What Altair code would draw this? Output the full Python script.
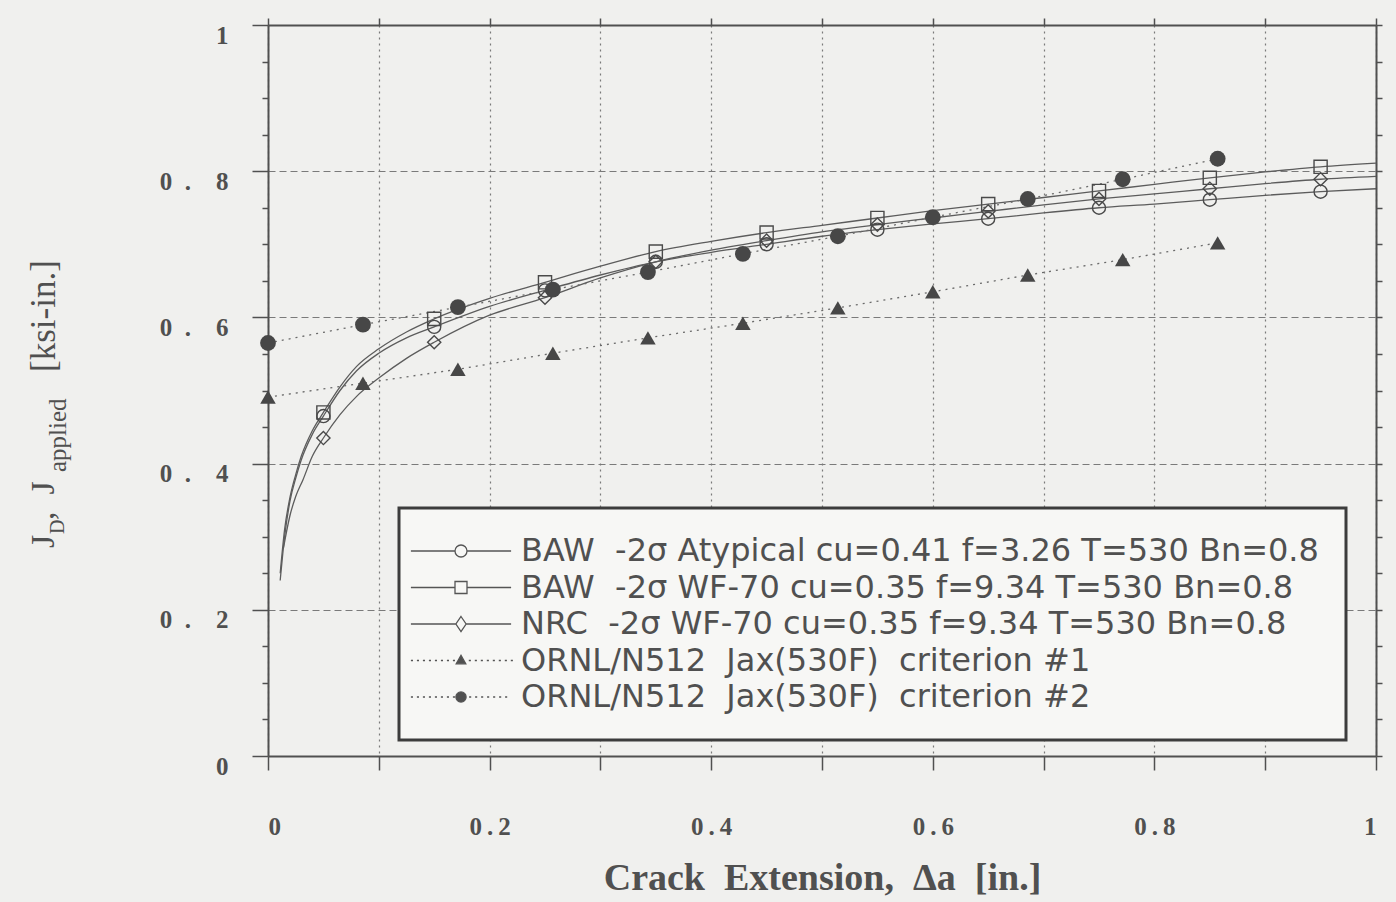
import altair as alt
import pandas as pd

# ---------------- data ----------------
series_names = [
    "BAW\u00a0\u00a0-2σ Atypical cu=0.41 f=3.26 T=530 Bn=0.8",
    "BAW\u00a0\u00a0-2σ WF-70 cu=0.35 f=9.34 T=530 Bn=0.8",
    "NRC\u00a0\u00a0-2σ WF-70 cu=0.35 f=9.34 T=530 Bn=0.8",
    "ORNL/N512\u00a0\u00a0Jax(530F)\u00a0\u00a0criterion #1",
    "ORNL/N512\u00a0\u00a0Jax(530F)\u00a0\u00a0criterion #2",
]

# open-marker positions of the three fitted J-R curves
marker_x = [0.05, 0.15, 0.25, 0.35, 0.45, 0.55, 0.65, 0.75, 0.85, 0.95]
baw_atyp_marker_y = [0.465, 0.587, 0.637, 0.676, 0.700, 0.720, 0.735, 0.750, 0.761, 0.772]
baw_wf70_marker_y = [0.470, 0.598, 0.648, 0.690, 0.716, 0.736, 0.755, 0.773, 0.791, 0.806]
nrc_wf70_marker_y = [0.435, 0.566, 0.627, 0.676, 0.705, 0.727, 0.745, 0.762, 0.776, 0.789]

# traced curve points
curve_x = [0.011, 0.015, 0.02, 0.025, 0.03, 0.04, 0.05, 0.065, 0.08, 0.1, 0.125, 0.15,
           0.2, 0.25, 0.3, 0.35, 0.4, 0.45, 0.5, 0.55, 0.6, 0.65, 0.7, 0.75, 0.8,
           0.85, 0.9, 0.95, 1.0]
baw_atyp_curve_y = [0.24, 0.30, 0.35, 0.38, 0.405, 0.44, 0.465, 0.50, 0.527, 0.551, 0.572,
                    0.587, 0.615, 0.637, 0.658, 0.676, 0.689, 0.700, 0.711, 0.720, 0.728,
                    0.735, 0.743, 0.750, 0.755, 0.761, 0.767, 0.772, 0.776]
baw_wf70_curve_y = [0.25, 0.31, 0.355, 0.385, 0.41, 0.445, 0.47, 0.505, 0.533, 0.557, 0.58,
                    0.598, 0.626, 0.648, 0.670, 0.690, 0.704, 0.716, 0.726, 0.736, 0.746,
                    0.755, 0.764, 0.773, 0.782, 0.791, 0.799, 0.806, 0.811]
nrc_curve_x = [0.014, 0.02, 0.025, 0.0316, 0.04, 0.05, 0.065, 0.08, 0.1, 0.125, 0.15, 0.2,
               0.25, 0.3, 0.35, 0.4, 0.45, 0.5, 0.55, 0.6, 0.65, 0.7, 0.75, 0.8, 0.85,
               0.9, 0.95, 1.0]
nrc_wf70_curve_y = [0.285, 0.33, 0.355, 0.378, 0.41, 0.435, 0.467, 0.492, 0.517, 0.544,
                    0.566, 0.603, 0.627, 0.654, 0.676, 0.692, 0.705, 0.717, 0.727, 0.736,
                    0.745, 0.754, 0.762, 0.769, 0.776, 0.783, 0.789, 0.793]

# ORNL applied-J points
ornl_x = [0.0, 0.0857, 0.1714, 0.2571, 0.3429, 0.4286, 0.5143, 0.6, 0.6857, 0.7714, 0.8571]
crit1_y = [0.491, 0.510, 0.529, 0.551, 0.572, 0.592, 0.613, 0.635, 0.658, 0.679, 0.702]
crit2_y = [0.565, 0.590, 0.614, 0.638, 0.662, 0.687, 0.711, 0.737, 0.762, 0.789, 0.817]

x_ticks = [0.0, 0.1, 0.2, 0.3, 0.4, 0.5, 0.6, 0.7, 0.8, 0.9, 1.0]
y_ticks = [0.0, 0.05, 0.1, 0.15, 0.2, 0.25, 0.3, 0.35, 0.4, 0.45, 0.5, 0.55, 0.6,
           0.65, 0.7, 0.75, 0.8, 0.85, 0.9, 0.95, 1.0]

# ---------------- tables ----------------
curves = pd.concat([
    pd.DataFrame({"x": curve_x, "y": baw_atyp_curve_y, "series": series_names[0]}),
    pd.DataFrame({"x": curve_x, "y": baw_wf70_curve_y, "series": series_names[1]}),
    pd.DataFrame({"x": nrc_curve_x, "y": nrc_wf70_curve_y, "series": series_names[2]}),
])
open_pts = pd.concat([
    pd.DataFrame({"x": marker_x, "y": baw_atyp_marker_y, "series": series_names[0]}),
    pd.DataFrame({"x": marker_x, "y": baw_wf70_marker_y, "series": series_names[1]}),
    pd.DataFrame({"x": marker_x, "y": nrc_wf70_marker_y, "series": series_names[2]}),
])
ornl = pd.concat([
    pd.DataFrame({"x": ornl_x, "y": crit1_y, "series": series_names[3]}),
    pd.DataFrame({"x": ornl_x, "y": crit2_y, "series": series_names[4]}),
])
legend_rows = pd.DataFrame({"entry": series_names})

# ---------------- styling ----------------
BG = "#f0f0ee"
INK = "#505050"
SERIF = "Liberation Serif"
major = "abs(datum.value*5 - round(datum.value*5)) < 0.001"

# legend sample symbols (line + marker) as unit-space paths
L = 16.7
def solid(g):
    return f"M{-L},0H{-g}M{g},0H{L}"
def dotted(g):
    s, p = "", -L
    while p < -g - 0.5:
        s += f"M{p:.2f},0H{p+0.7:.2f}"
        p += 2.0
    p = g + 1.0
    while p < L:
        s += f"M{p:.2f},0H{p+0.7:.2f}"
        p += 2.0
    return s
legend_paths = [
    solid(2) + "M2,0A2,2 0 1,1 -2,0A2,2 0 1,1 2,0Z",
    solid(2) + "M-2,-2H2V2H-2Z",
    solid(1.7) + "M0,-2.5L1.7,0L0,2.5L-1.7,0Z",
    dotted(1.6) + "M0,-1.7L1.6,1.1L-1.6,1.1Z",
    dotted(1.7) + "M1.7,0A1.7,1.7 0 1,1 -1.7,0A1.7,1.7 0 1,1 1.7,0Z",
]
legend_fills = ["#f7f7f5", "#f7f7f5", "#f7f7f5", INK, INK]
legend_strokes = ["#555555"] * 5

xs = alt.Scale(domain=[0, 1], nice=False, zero=False)
ys = alt.Scale(domain=[0, 1], nice=False, zero=False)

x_axis = alt.Axis(
    orient="bottom", values=x_ticks, format="~g",
    labelExpr=f"({major}) ? replace(datum.label, '.', '\u2009.\u2009') : ''",
    title="Crack\u00a0\u00a0Extension,\u00a0\u00a0Δa\u00a0\u00a0[in.]",
    titleFont=SERIF, titleFontSize=38, titleFontWeight="bold", titleColor=INK,
    titleY=122, titleBaseline="middle",
    labelFont=SERIF, labelFontSize=25, labelFontWeight="bold", labelColor=INK,
    labelPadding=44, tickSize=14, tickColor=INK, tickWidth=1.5,
    domainColor=INK, domainWidth=2,
    grid=True, gridColor="#7a7a7a", gridDash=[2, 4], gridWidth=1.2,
)
y_axis = alt.Axis(
    orient="left", values=y_ticks, format="~g",
    labelExpr=f"({major}) ? replace(datum.label, '.', '\u2002.\u2003') : ''",
    title=None,
    labelFont=SERIF, labelFontSize=25, labelFontWeight="bold", labelColor=INK,
    labelPadding=24, labelOffset=10,
    tickSize={"condition": {"test": major, "value": 16}, "value": 6},
    tickColor=INK, tickWidth=1.5,
    domainColor=INK, domainWidth=2,
    grid=True, gridColor="#7a7a7a", gridDash=[7, 4], gridWidth=1.2,
    gridOpacity={"condition": {"test": major, "value": 1}, "value": 0},
)
top_axis = alt.Axis(orient="top", values=x_ticks, labels=False, title=None, grid=False,
                    tickSize=7, tickColor=INK, tickWidth=1.5, domainColor=INK, domainWidth=2)
right_axis = alt.Axis(orient="right", values=y_ticks, labels=False, title=None, grid=False,
                      tickSize=6, tickColor=INK, tickWidth=1.5, domainColor=INK, domainWidth=2)

curve_lines = alt.Chart(curves).mark_line(
    interpolate="monotone", color="#5c5c5c", strokeWidth=1.3
).encode(
    x=alt.X("x:Q", scale=xs, axis=x_axis),
    y=alt.Y("y:Q", scale=ys, axis=y_axis),
    detail="series:N",
)

ornl_lines = alt.Chart(ornl).mark_line(
    color="#6a6a6a", strokeWidth=1.3, strokeDash=[2, 5]
).encode(
    x=alt.X("x:Q", scale=xs, axis=top_axis),
    y=alt.Y("y:Q", scale=ys, axis=right_axis),
    detail="series:N",
)

open_markers = alt.Chart(open_pts).mark_point(
    filled=False, color="#4a4a4a", strokeWidth=1.4, opacity=1
).encode(
    x=alt.X("x:Q", scale=xs, axis=None),
    y=alt.Y("y:Q", scale=ys, axis=None),
    shape=alt.Shape("series:N", scale=alt.Scale(domain=series_names[:3],
                    range=["circle", "square", "diamond"]), legend=None),
    size=alt.Size("series:N", scale=alt.Scale(domain=series_names[:3],
                  range=[170, 175, 160]), legend=None),
)

filled_markers = alt.Chart(ornl).mark_point(
    filled=True, color="#474747", opacity=1
).encode(
    x=alt.X("x:Q", scale=xs, axis=None),
    y=alt.Y("y:Q", scale=ys, axis=None),
    shape=alt.Shape("series:N", scale=alt.Scale(domain=series_names[3:],
                    range=["triangle-up", "circle"]), legend=None),
    size=alt.Size("series:N", scale=alt.Scale(domain=series_names[3:],
                  range=[240, 250]), legend=None),
)

leg = alt.Legend(
    orient="none", legendX=131, legendY=483, title=None,
    padding=27, rowPadding=4.5, fillColor="#f7f7f5", strokeColor="#3c3c3c",
    labelFont="DejaVu Sans", labelFontSize=32, labelColor=INK, labelLimit=2000,
    symbolSize=36, symbolStrokeColor="#555555", symbolStrokeWidth=1.3, symbolOpacity=1,
    symbolOffset=19, labelOffset=44, zindex=5,
)
# legend-only layer: no marks drawn, entries come from the scale domains
legend_layer = alt.Chart(legend_rows).transform_filter("false").mark_point(
    opacity=1, strokeWidth=1.3
).encode(
    shape=alt.Shape("entry:N", scale=alt.Scale(domain=series_names, range=legend_paths), legend=leg),
    fill=alt.Fill("entry:N", scale=alt.Scale(domain=series_names, range=legend_fills), legend=leg),
    stroke=alt.Stroke("entry:N", scale=alt.Scale(domain=series_names, range=legend_strokes), legend=leg),
)

# rotated y-axis title with subscripts
def title_piece(txt, size, xpx, ypx):
    return alt.Chart(pd.DataFrame({"t": [txt]})).mark_text(
        angle=270, align="left", baseline="middle", font=SERIF, fontSize=size, color=INK
    ).encode(text="t:N", x=alt.value(xpx), y=alt.value(ypx))

ytitle = [
    title_piece("J", 34, -224, 523),
    title_piece("D", 20, -210, 509),
    title_piece(",\u00a0\u00a0J", 34, -224, 495),
    title_piece("applied", 25, -210, 447),
    title_piece("[ksi-in.]", 35, -224, 347),
]

chart = alt.layer(
    curve_lines, ornl_lines, open_markers, filled_markers, legend_layer, *ytitle
).resolve_axis(
    x="independent", y="independent"
).resolve_scale(
    shape="independent", size="independent", fill="independent", stroke="independent"
).properties(
    width=1108, height=731,
    autosize=alt.AutoSizeParams(type="none"),
    padding={"left": 268, "top": 25, "right": 20, "bottom": 146},
    background=BG,
).configure_view(stroke=None).configure_legend(strokeWidth=3)

chart.save("out.html", embed_options={"renderer": "svg", "actions": False})
